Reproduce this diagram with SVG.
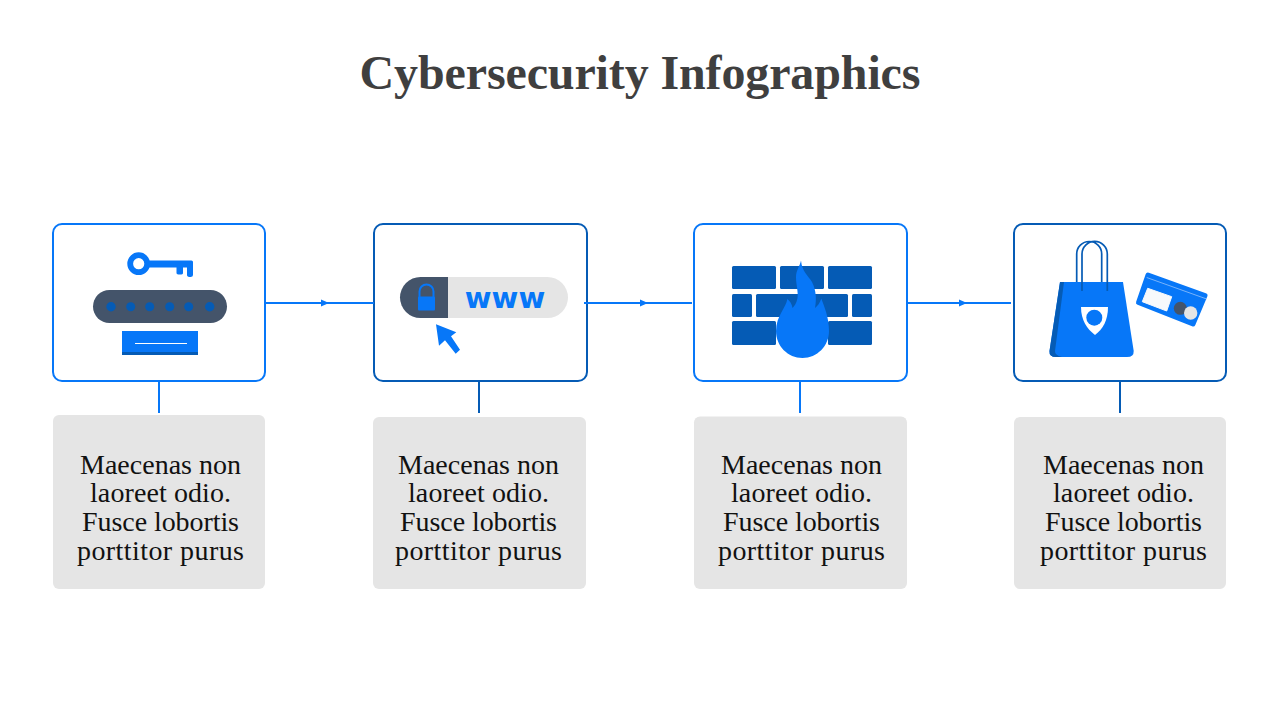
<svg xmlns="http://www.w3.org/2000/svg" width="1280" height="720" viewBox="0 0 1280 720">
<style>
.bg{fill:#fff}
.card{fill:#fff;stroke-width:2}
.b{stroke:#0777F8}.d{stroke:#055BB5}
.fb{fill:#0777F8}.fd{fill:#055BB5}.fs{fill:#44546A}.fg{fill:#E5E5E5}
.link{fill:none;stroke-width:2}
.note{fill:#E5E5E5}
.t{font-family:"Liberation Serif","Noto Serif",serif;font-size:28px;fill:#111;text-anchor:middle}
.title{font-family:"Liberation Serif",serif;font-weight:700;font-size:48px;fill:#3F3F3F;text-anchor:middle}
</style>
<defs>
<marker id="arr" viewBox="0 0 8 8" refX="4" refY="4" markerWidth="8" markerHeight="8" markerUnits="userSpaceOnUse" orient="auto"><path d="M0 0.5L8 4L0 7.5Z" fill="#0777F8"/></marker>
</defs>
<rect class="bg" width="1280" height="720"/>
<text class="title" x="640" y="89" textLength="561" lengthAdjust="spacing">Cybersecurity Infographics</text>
<g id="node1">
<rect class="card b" x="53" y="224" width="212" height="157" rx="9"/>
<circle cx="138.700" cy="263.700" r="8.500" fill="none" stroke="#0777F8" stroke-width="5.800"/>
<path class="fb" d="M149 260.500H191.500Q193 260.500 193 262V275Q193 277 190.500 277Q187 277 187 275V267.500H183V273Q183 274.500 180 274.500Q176.500 274.500 176.500 273V267.500H149Z"/>
<rect class="fs" x="93" y="290" width="134" height="33" rx="16.500"/>
<g class="fd"><circle cx="111" cy="306.700" r="4.700"/><circle cx="130.700" cy="306.700" r="4.500"/><circle cx="149.700" cy="306.700" r="4.500"/><circle cx="169.700" cy="306.700" r="4.500"/><circle cx="188.700" cy="306.700" r="4.500"/><circle cx="209.700" cy="306.700" r="4.700"/></g>
<rect class="fb" x="122" y="331" width="76" height="21"/>
<rect class="fd" x="122" y="352" width="76" height="3"/>
<rect x="135" y="343" width="52" height="1" fill="#fff"/>
</g>
<g id="node2">
<rect class="card d" x="374" y="224" width="213" height="157" rx="9"/>
<path class="fg" d="M448 277H547.500A20.500 20.500 0 0 1 547.500 318H448Z"/>
<path class="fs" d="M448 277H420.500A20.500 20.500 0 0 0 420.500 318H448Z"/>
<path d="M419.500 298V291.500A7 7 0 0 1 433.500 291.500V298" fill="none" stroke="#0777F8" stroke-width="2"/>
<rect class="fb" x="418" y="296.500" width="17" height="14" rx="1"/>
<text x="505" y="307.700" text-anchor="middle" font-family="'DejaVu Sans',sans-serif" font-weight="700" font-size="29" fill="#0777F8">www</text>
<path class="fb" d="M436 324.300L456.300 332.300L451 336.300L460 349.700L455.700 353.700L445 340.300L439 345.700Z"/>
</g>
<g id="node3">
<rect class="card b" x="694" y="224" width="213" height="157" rx="9"/>
<g class="fd">
<rect x="732" y="266" width="44" height="23" rx="1.500"/><rect x="780" y="266" width="44" height="23" rx="1.500"/><rect x="828" y="266" width="44" height="23" rx="1.500"/>
<rect x="732" y="294" width="20" height="23" rx="1.500"/><rect x="756" y="294" width="92" height="23" rx="1.500"/><rect x="852" y="294" width="20" height="23" rx="1.500"/>
<rect x="732" y="321" width="44" height="24" rx="1.500"/><rect x="828" y="321" width="44" height="24" rx="1.500"/>
</g>
<path class="fb" d="M801 260.500C800 266 796 270 796 277C796 285 798.500 292 797.500 298C796.500 303 794.500 306 792.500 308C792 304 790 301 787.300 299C786.500 307 776 316 776 331C776 346 788 358 802.500 358C817 358 829 346 829 331C829 317 824 306 821.300 298.500C820 303 817.500 306 815 308C816.500 300 816.500 291 812 282C808.500 276 802 272 801 260.500Z"/>
</g>
<g id="node4">
<rect class="card d" x="1014" y="224" width="212" height="157" rx="9"/>
<path d="M1076.700 282V254A12.500 12.500 0 0 1 1101.700 254V282M1082 291V254A12.650 12.650 0 0 1 1107.300 254V291" fill="none" stroke="#055BB5" stroke-width="1.700"/>
<path class="fb" d="M1060 282H1123L1133.700 351Q1134 357 1127 357H1056Q1049 357 1049.500 351Z"/>
<path class="fd" d="M1060 282H1064L1055 351Q1054.500 355 1062 357H1056Q1049 357 1049.500 351Z"/>
<path d="M1082 282V291M1107.300 282V291" fill="none" stroke="#055BB5" stroke-width="1.700"/>
<path d="M1081 307H1108C1108 320 1103 329 1095 335C1087 329 1081 320 1081 307Z" fill="#fff"/>
<circle class="fb" cx="1094.300" cy="317.700" r="8"/>
<path class="fb" stroke="#0777F8" stroke-width="5" stroke-linejoin="round" d="M1148 275L1205 295.500L1193 324L1138.500 302.500Z"/>
<path d="M1146.700 277.500L1206.700 299" stroke="#A9CDFB" stroke-width="0.700" fill="none"/>
<path d="M1147.700 288.300L1171.700 296.700L1166.700 311L1142.300 301.700Z" fill="#F7F9FC" stroke="#F7F9FC" stroke-linejoin="round" stroke-width="1"/>
<circle class="fs" cx="1180.300" cy="308.300" r="6.500"/>
<circle class="fg" cx="1190.700" cy="313" r="6.700"/>
</g>
<g id="note1"><rect class="note" x="53" y="415" width="212" height="174" rx="6"/>
<text class="t"><tspan x="160.500" y="474" textLength="161">Maecenas non</tspan><tspan x="160.500" y="502" textLength="141">laoreet odio.</tspan><tspan x="160.500" y="531" textLength="157">Fusce lobortis</tspan><tspan x="160.500" y="560" textLength="167">porttitor purus</tspan></text></g>
<g id="note2"><rect class="note" x="373" y="417" width="213" height="172" rx="6"/>
<text class="t"><tspan x="478.500" y="474" textLength="161">Maecenas non</tspan><tspan x="478.500" y="502" textLength="141">laoreet odio.</tspan><tspan x="478.500" y="531" textLength="157">Fusce lobortis</tspan><tspan x="478.500" y="560" textLength="167">porttitor purus</tspan></text></g>
<g id="note3"><rect class="note" x="694" y="416.500" width="213" height="172.500" rx="6"/>
<text class="t"><tspan x="801.500" y="474" textLength="161">Maecenas non</tspan><tspan x="801.500" y="502" textLength="141">laoreet odio.</tspan><tspan x="801.500" y="531" textLength="157">Fusce lobortis</tspan><tspan x="801.500" y="560" textLength="167">porttitor purus</tspan></text></g>
<g id="note4"><rect class="note" x="1014" y="417" width="212" height="172" rx="6"/>
<text class="t"><tspan x="1123.500" y="474" textLength="161">Maecenas non</tspan><tspan x="1123.500" y="502" textLength="141">laoreet odio.</tspan><tspan x="1123.500" y="531" textLength="157">Fusce lobortis</tspan><tspan x="1123.500" y="560" textLength="167">porttitor purus</tspan></text></g>
<g id="connectors">
<path class="link b" d="M266 303H325" marker-end="url(#arr)"/><path class="link b" d="M325 303H374"/>
<path class="link b" d="M584 303H644" marker-end="url(#arr)"/><path class="link b" d="M644 303H692"/>
<path class="link b" d="M908 303H963" marker-end="url(#arr)"/><path class="link b" d="M963 303H1011"/>
<path class="link b" d="M159 382V413"/>
<path class="link d" d="M479 382V413"/>
<path class="link b" d="M800 382V413"/>
<path class="link d" d="M1120 382V413"/>
</g>
</svg>
